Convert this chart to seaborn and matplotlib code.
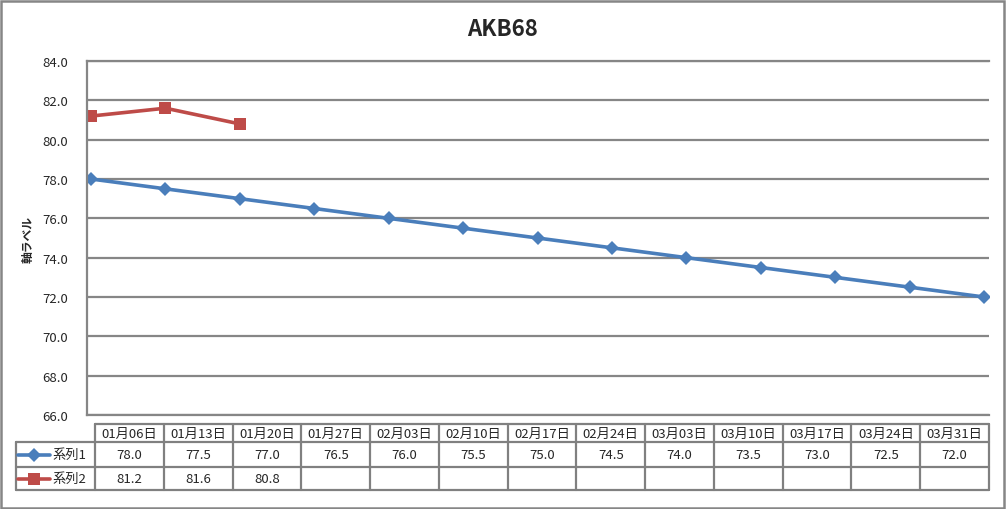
import matplotlib
matplotlib.use('Agg')
import pandas as pd
import matplotlib.pyplot as plt
import seaborn as sns
from matplotlib.patches import Rectangle

# chart data
title = 'AKB68'
y_label = '軸ラベル'
dates = ['01月06日', '01月13日', '01月20日', '01月27日', '02月03日', '02月10日', '02月17日',
         '02月24日', '03月03日', '03月10日', '03月17日', '03月24日', '03月31日']
series_names = ['系列1', '系列2']
series1 = [78.0, 77.5, 77.0, 76.5, 76.0, 75.5, 75.0, 74.5, 74.0, 73.5, 73.0, 72.5, 72.0]
series2 = [81.2, 81.6, 80.8]
y_ticks = [66, 68, 70, 72, 74, 76, 78, 80, 82, 84]

colors = {'系列1': '#4A7EBB', '系列2': '#BE4B48'}
markers = {'系列1': 'D', '系列2': 's'}
msizes = {'系列1': 7, '系列2': 8}
grey = '#868686'

sns.set_style('white')
plt.rcParams['font.family'] = ['Noto Sans CJK JP', 'DejaVu Sans']

W, H = 1006, 510
fig = plt.figure(figsize=(W / 100, H / 100), dpi=100)


def px(l, t, r, b):
    # pixel box -> figure fraction rect
    return [l / W, 1 - b / H, (r - l) / W, (b - t) / H]


# long-form data for seaborn
rows = []
for i, v in enumerate(series1):
    rows.append({'idx': i, 'date': dates[i], 'series': '系列1', 'value': v})
for i, v in enumerate(series2):
    rows.append({'idx': i, 'date': dates[i], 'series': '系列2', 'value': v})
df = pd.DataFrame(rows)

ax = fig.add_axes(px(87, 62, 989, 416))
sns.lineplot(data=df, x='idx', y='value', hue='series', style='series',
             palette=colors, markers=markers, dashes=False, linewidth=2.6,
             markersize=7, markeredgewidth=0, legend=False, ax=ax)
for line, name in zip(ax.lines, series_names):
    line.set_markersize(msizes[name])

ax.set_xlim(-0.054, len(dates) - 1 + 0.067)
ax.set_ylim(y_ticks[0], y_ticks[-1])
ax.set_yticks(y_ticks)
ax.set_yticklabels([f'{t:.1f}' for t in y_ticks])
ax.set_xticks([])
ax.set_xlabel('')
ax.set_ylabel('')
ax.tick_params(axis='y', length=0, pad=13.5, labelsize=9.5)
ax.grid(axis='y', color=grey, linewidth=1.6)
ax.set_axisbelow(True)
for s in ['left', 'top', 'bottom']:
    ax.spines[s].set_color(grey)
    ax.spines[s].set_linewidth(1.6)
ax.spines['right'].set_visible(False)

fig.text(502 / W, 1 - 30 / H, title, ha='center', va='center',
         fontsize=16, fontweight='bold')
fig.text(28 / W, 1 - 240 / H, y_label, ha='center', va='center',
         rotation=90, fontsize=8.5, fontweight='bold')

# data table under the chart
tab = fig.add_axes([0, 0, 1, 1], facecolor='none')
tab.set_xlim(0, W)
tab.set_ylim(H, 0)
tab.axis('off')

x_lab, x0, x1 = 16, 95, 989
y_rows = [425, 443, 468, 491]
cw = (x1 - x0) / len(dates)
lc = '#808080'
lw = 1.6

tab.plot([x0, x1], [y_rows[0]] * 2, color=lc, lw=lw)
for y in y_rows[1:]:
    tab.plot([x_lab, x1], [y, y], color=lc, lw=lw)
tab.plot([x_lab, x_lab], [y_rows[1], y_rows[3]], color=lc, lw=lw)
for k in range(len(dates) + 1):
    x = x0 + k * cw
    tab.plot([x, x], [y_rows[0], y_rows[3]], color=lc, lw=lw)

for k, d in enumerate(dates):
    tab.text(x0 + (k + 0.5) * cw, (y_rows[0] + y_rows[1]) / 2, d,
             ha='center', va='center', fontsize=9.5)

table_vals = [series1, series2]
for r, (name, vals) in enumerate(zip(series_names, table_vals)):
    yc = (y_rows[r + 1] + y_rows[r + 2]) / 2
    tab.plot([18, 50], [yc, yc], color=colors[name], lw=2.6)
    tab.plot([34], [yc], marker=markers[name], color=colors[name], mew=0,
             markersize=msizes[name])
    tab.text(52, yc, name, ha='left', va='center', fontsize=9.5)
    for k, v in enumerate(vals):
        tab.text(x0 + (k + 0.5) * cw, yc, f'{v:.1f}', ha='center', va='center', fontsize=9.5)

# outer frame of the chart
fig.patches.append(Rectangle((1 / W, 1 / H), (W - 3) / W, (H - 3) / H,
                             transform=fig.transFigure, fill=False,
                             edgecolor=grey, linewidth=1.8))

fig.savefig('out.png', dpi=100)
